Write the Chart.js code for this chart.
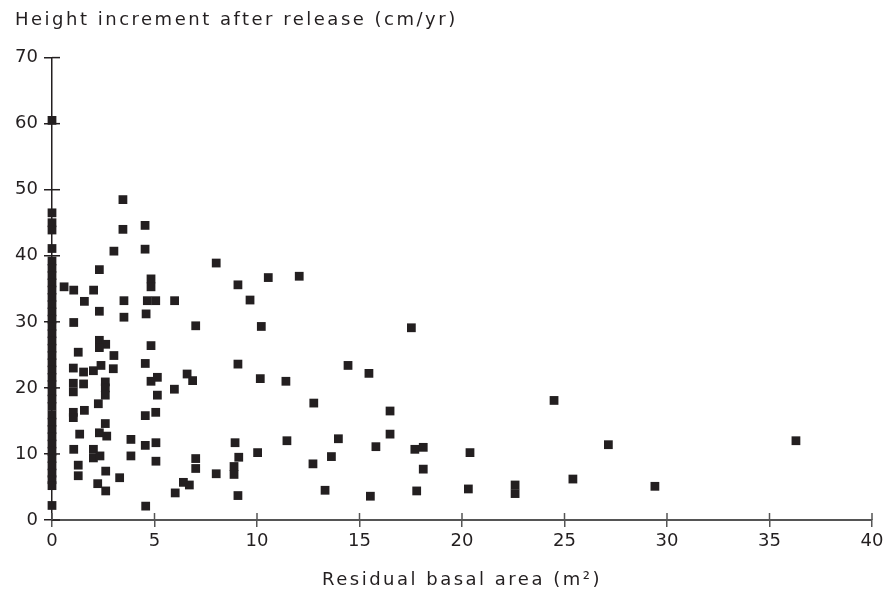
<!DOCTYPE html>
<html>
<head>
<meta charset="utf-8">
<script src="https://cdn.jsdelivr.net/npm/chart.js@4"></script>
<style>
  html, body { margin: 0; padding: 0; background: #fff; }
</style>
</head>
<body>
<canvas id="releaseChart" width="894" height="601"></canvas>
<script>
// Trees with no residual basal area (stacked on the y axis)
const zeroBasalHeights = [
  60.5, 46.5, 45.0, 43.9, 41.1, 39.2, 38.1, 37.0, 35.9, 34.8, 33.7, 32.6,
  31.5, 30.4, 29.3, 28.2, 27.1, 26.0, 24.9, 23.8, 22.7, 21.6, 20.5, 19.4,
  18.3, 17.2, 15.9, 14.8, 13.7, 12.6, 11.5, 10.4, 9.3, 8.2, 7.1, 6.1, 5.2, 2.2
];

// Residual basal area (m2) and height increment (cm/yr) of the other trees
const basalArea = [
  3.46, 3.46, 4.54, 3.02, 4.54, 2.31, 0.59, 1.06, 2.03, 4.83, 4.83, 1.58,
  3.51, 4.65, 5.06, 2.31, 3.51, 4.59, 1.06, 2.31, 2.62, 2.31, 4.83, 1.28,
  3.02, 1.04, 1.54, 2.02, 2.39, 2.99, 4.55, 4.83, 5.14, 1.04, 1.04, 1.54,
  2.6, 2.6, 2.6, 5.14, 2.26, 1.58, 1.04, 1.04, 4.55, 5.06, 2.6, 1.35,
  2.31, 2.67, 3.85, 4.55, 5.07, 1.06, 2.02, 2.02, 2.34, 3.85, 5.07, 1.28,
  1.28, 2.62, 3.3, 2.23, 2.62, 4.57, 8.01, 10.55, 12.06, 9.07, 5.98, 9.66,
  7.01, 10.21, 9.07, 6.59, 6.86, 5.97, 10.16, 11.41, 8.93, 11.46, 7.01, 7.01,
  8.01, 8.88, 8.88, 9.11, 10.03, 6.41, 6.7, 6.01, 9.07, 17.53, 14.44, 15.46,
  12.77, 16.49, 13.97, 16.49, 15.8, 17.7, 18.11, 20.39, 13.63, 12.73, 18.11, 13.32,
  15.53, 17.79, 20.31, 24.49, 27.14, 25.41, 22.59, 22.59, 29.41, 36.29
];
const heightIncrement = [
  48.5, 44.0, 44.6, 40.7, 41.0, 37.9, 35.3, 34.8, 34.8, 36.5, 35.3, 33.1,
  33.2, 33.2, 33.2, 31.6, 30.7, 31.2, 29.9, 27.2, 26.6, 26.1, 26.4, 25.4,
  24.9, 23.0, 22.4, 22.6, 23.4, 22.9, 23.7, 21.0, 21.6, 20.7, 19.4, 20.6,
  20.9, 20.0, 18.9, 18.9, 17.6, 16.6, 16.3, 15.5, 15.8, 16.3, 14.6, 13.0,
  13.2, 12.7, 12.2, 11.3, 11.7, 10.7, 10.7, 9.4, 9.7, 9.7, 8.9, 8.3,
  6.7, 7.4, 6.4, 5.5, 4.4, 2.1, 38.9, 36.7, 36.9, 35.6, 33.2, 33.3,
  29.4, 29.3, 23.6, 22.1, 21.1, 19.8, 21.4, 21.0, 11.7, 12.0, 9.3, 7.8,
  7.0, 8.1, 6.9, 9.5, 10.2, 5.7, 5.3, 4.1, 3.7, 29.1, 23.4, 22.2,
  17.7, 16.5, 12.3, 13.0, 11.1, 10.7, 11.0, 10.2, 9.6, 8.5, 7.7, 4.5,
  3.6, 4.4, 4.7, 18.1, 11.4, 6.2, 5.3, 4.0, 5.1, 12.0
];

const xTicks = [0, 5, 10, 15, 20, 25, 30, 35, 40];
const yTicks = [0, 10, 20, 30, 40, 50, 60, 70];

const points = zeroBasalHeights
  .map((h) => ({ x: 0, y: h }))
  .concat(basalArea.map((b, i) => ({ x: b, y: heightIncrement[i] })));

const fontFamily = "'DejaVu Sans', sans-serif";
const inkColor = "#231f20";

// Titles are set with wide tracking; tick labels are not
const trackedTitles = {
  id: "trackedTitles",
  beforeDraw(chart) {
    chart.ctx.letterSpacing = "2.5px";
  },
  beforeDatasetsDraw(chart) {
    chart.ctx.letterSpacing = "0px";
  },
};

// Inner half of the tick marks so they cross the axis lines
const crossTicks = {
  id: "crossTicks",
  beforeDatasetsDraw(chart) {
    const ctx = chart.ctx;
    const xs = chart.scales.x;
    const ys = chart.scales.y;
    ctx.save();
    ctx.lineWidth = 1.5;
    ctx.strokeStyle = inkColor;
    yTicks.forEach((v) => {
      const py = ys.getPixelForValue(v);
      ctx.beginPath();
      ctx.moveTo(xs.left, py);
      ctx.lineTo(xs.left + 8, py);
      ctx.stroke();
    });
    ctx.strokeStyle = "#555";
    xTicks.forEach((v) => {
      const px = xs.getPixelForValue(v);
      ctx.beginPath();
      ctx.moveTo(px, ys.bottom);
      ctx.lineTo(px, ys.bottom - 7);
      ctx.stroke();
    });
    ctx.restore();
  },
};

const ctx = document.getElementById("releaseChart").getContext("2d");

const releaseChart = new Chart(ctx, {
  type: "scatter",
  data: {
    datasets: [
      {
        label: "Height increment",
        data: points,
        clip: false,
        pointStyle: "rect",
        pointRadius: 6.2,
        pointHoverRadius: 6.2,
        backgroundColor: inkColor,
        borderWidth: 0,
      },
    ],
  },
  options: {
    responsive: false,
    animation: false,
    devicePixelRatio: 1,
    layout: { padding: { left: 15, right: 22, top: 0, bottom: 0 } },
    plugins: {
      legend: { display: false },
      tooltip: { enabled: false },
      title: {
        display: true,
        text: "Height increment after release (cm/yr)",
        align: "start",
        color: inkColor,
        font: { family: fontFamily, size: 18, weight: "normal" },
        padding: { top: 10, bottom: 26 },
      },
      subtitle: {
        display: true,
        position: "bottom",
        fullSize: false,
        text: "Residual basal area (m²)",
        color: inkColor,
        font: { family: fontFamily, size: 18, weight: "normal" },
        padding: { top: 0, bottom: 10 },
      },
    },
    scales: {
      x: {
        type: "linear",
        min: 0,
        max: 40,
        afterBuildTicks: (scale) => {
          scale.ticks = xTicks.map((v) => ({ value: v }));
        },
        afterFit: (scale) => {
          scale.height = 49.4;
        },
        border: { display: true, color: "#555", width: 2 },
        grid: {
          display: true,
          drawOnChartArea: false,
          drawTicks: true,
          tickLength: 7,
          color: "#555",
          lineWidth: 1.5,
        },
        ticks: {
          z: 1,
          color: inkColor,
          padding: 4,
          font: { family: fontFamily, size: 18 },
        },
      },
      y: {
        type: "linear",
        min: 0,
        max: 70,
        afterBuildTicks: (scale) => {
          scale.ticks = yTicks.map((v) => ({ value: v }));
        },
        afterFit: (scale) => {
          scale.width = 37;
        },
        border: { display: true, color: inkColor, width: 1.5 },
        grid: {
          display: true,
          drawOnChartArea: false,
          drawTicks: true,
          tickLength: 8,
          color: inkColor,
          lineWidth: 1.5,
        },
        ticks: {
          z: 1,
          color: inkColor,
          padding: 6,
          font: { family: fontFamily, size: 18 },
        },
      },
    },
  },
  plugins: [trackedTitles, crossTicks],
});
</script>
</body>
</html>
